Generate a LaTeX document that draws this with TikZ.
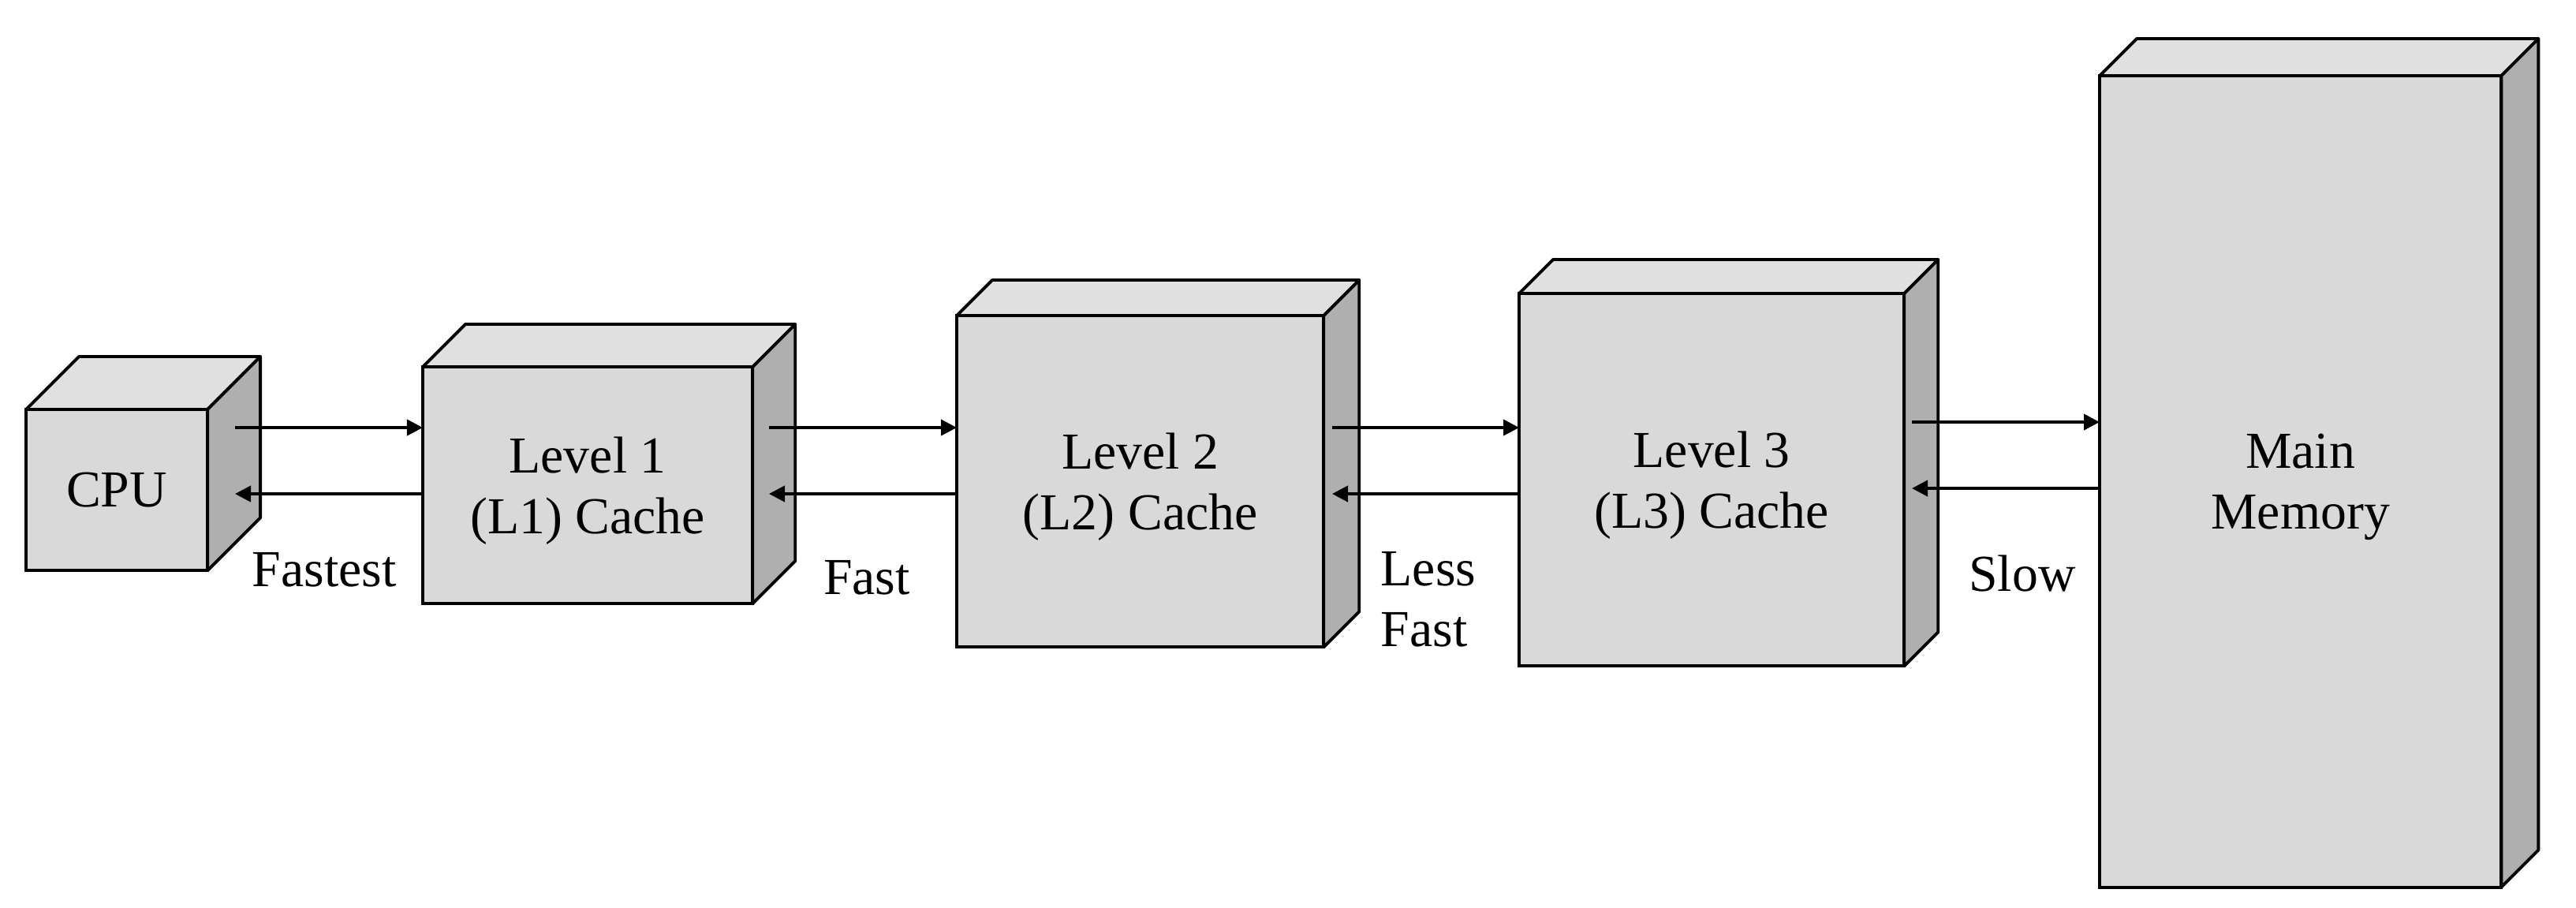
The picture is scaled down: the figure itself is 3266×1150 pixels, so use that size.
\documentclass[tikz,border=0pt]{standalone}
\usepackage{fontspec}
\setmainfont{Liberation Serif}
\usetikzlibrary{arrows.meta,calc}
\definecolor{frontgray}{HTML}{D9D9D9}
\definecolor{topgray}{HTML}{E0E0E0}
\definecolor{sidegray}{HTML}{AFAFAF}
\newcommand\cubesides[2]{%
  \draw[facetop] (#1.north west) -- ++(#2,-#2) -- ($(#1.north east)+(#2,-#2)$) -- (#1.north east) -- cycle;
  \draw[faceside] (#1.north east) -- ++(#2,-#2) -- ($(#1.south east)+(#2,-#2)$) -- (#1.south east) -- cycle;}
\begin{document}
\begin{tikzpicture}[x=0.01cm,y=-0.01cm,
  facefront/.style={draw=black, line width=1.1pt, fill=frontgray, inner sep=0pt, outer sep=0pt,
    align=center, text depth=0pt, font=\fontsize{18.7}{21.9}\selectfont, anchor=north west},
  facetop/.style={draw=black, line width=1.1pt, fill=topgray, line join=round},
  faceside/.style={draw=black, line width=1.1pt, fill=sidegray, line join=round},
  link/.style={line width=1.1pt, -{Triangle[length=0.2cm,width=0.2cm]}},
  speed/.style={font=\fontsize{18.7}{21.9}\selectfont, inner sep=0pt, anchor=base}]

\useasboundingbox (0,0) rectangle (3266,1150);

% cubes
\node[facefront, minimum width=2.30cm, minimum height=2.04cm] (cpu) at (33,519) {CPU};
\cubesides{cpu}{67}
\node[facefront, minimum width=4.18cm, minimum height=3.00cm] (l1) at (536,465) {Level 1\\(L1) Cache};
\cubesides{l1}{54}
\node[facefront, minimum width=4.65cm, minimum height=4.20cm] (l2) at (1213,400) {Level 2\\(L2) Cache};
\cubesides{l2}{45}
\node[facefront, minimum width=4.88cm, minimum height=4.72cm] (l3) at (1926,372) {Level 3\\(L3) Cache};
\cubesides{l3}{43}
\node[facefront, minimum width=5.09cm, minimum height=10.28cm] (mm) at (2662,96) {Main\\Memory};
\cubesides{mm}{47}

% connectors
\coordinate (cpuout) at (298,542);
\coordinate (cpuin) at (298,626);
\coordinate (l1out) at (975,542);
\coordinate (l1in) at (975,626);
\coordinate (l2out) at (1689,542);
\coordinate (l2in) at (1689,626);
\coordinate (l3out) at (2424,535);
\coordinate (l3in) at (2424,619);
\draw[link] (cpuout) -- (cpuout -| l1.west);
\draw[link] (cpuin -| l1.west) -- (cpuin);
\draw[link] (l1out) -- (l1out -| l2.west);
\draw[link] (l1in -| l2.west) -- (l1in);
\draw[link] (l2out) -- (l2out -| l3.west);
\draw[link] (l2in -| l3.west) -- (l2in);
\draw[link] (l3out) -- (l3out -| mm.west);
\draw[link] (l3in -| mm.west) -- (l3in);

% speed labels
\node[speed] (lfastest) at (411,743) {Fastest};
\node[speed] (lfast) at (1099,753) {Fast};
\node[speed, anchor=north west, align=left] (lless) at (1750,699) {Less\\Fast};
\node[speed] (lslow) at (2564,749) {Slow};
\end{tikzpicture}
\end{document}
